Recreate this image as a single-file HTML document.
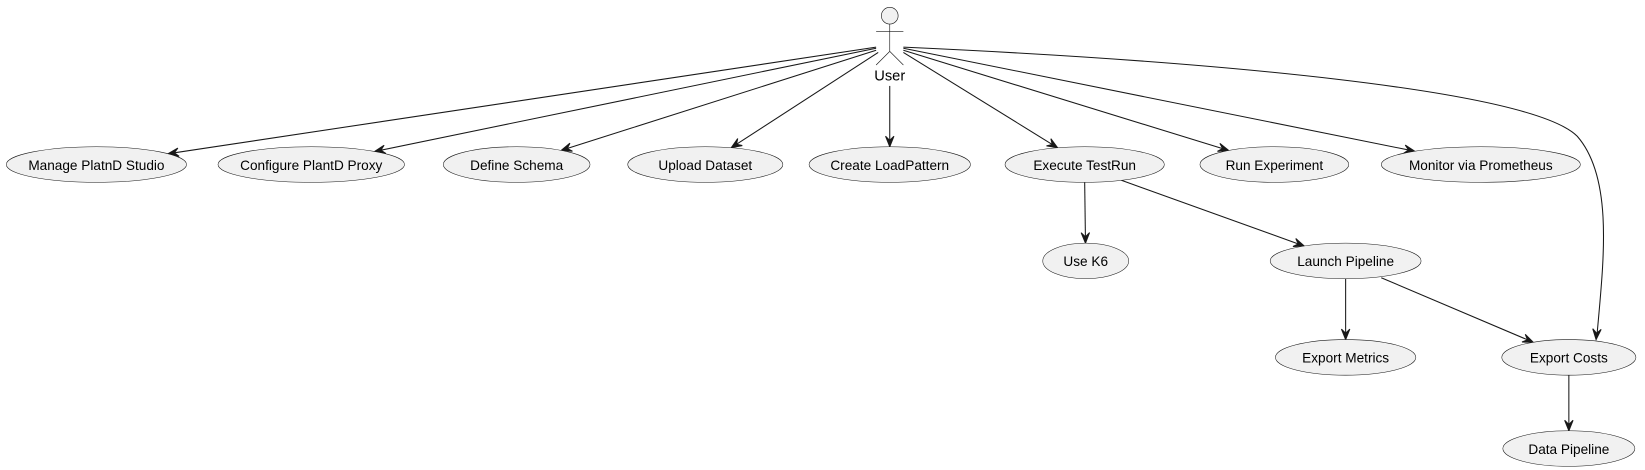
<!DOCTYPE html>
<html><head><meta charset="utf-8"><style>
html,body{margin:0;padding:0;background:#fff;}
svg{display:block;font-family:"Liberation Sans",Arial,sans-serif;}
</style></head><body>
<svg id="d" width="1645" height="470" xmlns="http://www.w3.org/2000/svg">
<g transform="scale(1.048)">
<g stroke="#181818" stroke-width="0.6" fill="none">
<circle cx="849" cy="15" r="8" fill="#f1f1f1"/>
<line x1="849" y1="23" x2="849" y2="49"/>
<line x1="836" y1="30" x2="862" y2="30"/>
<line x1="849" y1="49" x2="836" y2="62"/>
<line x1="849" y1="49" x2="862" y2="62"/>
</g>
<text x="849" y="77" font-size="14" text-anchor="middle" fill="#000">User</text>
<g id="edges"></g>
<g id="nodes"></g>
</g>
</svg>
<script>
const N={
a:[92,157,86,17,"Manage PlatnD Studio"],
b:[297,157,89,17,"Configure PlantD Proxy"],
c:[493,157,70,17,"Define Schema"],
d:[673,157,74,17,"Upload Dataset"],
e:[849,157,77,17,"Create LoadPattern"],
f:[1035,157,76,17,"Execute TestRun"],
g:[1216,157,71,17,"Run Experiment"],
h:[1413,157,95,17,"Monitor via Prometheus"],
k:[1036,249,41,17,"Use K6"],
l:[1284,249,72,17,"Launch Pipeline"],
m:[1284,341,67,17,"Export Metrics"],
n:[1497,341,64,17,"Export Costs"],
p:[1497,428,63,17,"Data Pipeline"]};
const ns="http://www.w3.org/2000/svg";
const E=document.getElementById("edges"),G=document.getElementById("nodes");
function mk(t,a,p){const e=document.createElementNS(ns,t);for(const k in a)e.setAttribute(k,a[k]);p.appendChild(e);return e;}
function arrow(x,y,ux,uy){const px=-uy,py=ux;const b1=[x-ux*10+px*4,y-uy*10+py*4],b2=[x-ux*10-px*4,y-uy*10-py*4],m=[x-ux*6,y-uy*6];
mk("polygon",{points:`${x},${y} ${b1} ${m} ${b2}`,fill:"#181818",stroke:"#181818","stroke-width":"1"},E);}
function edge(sx,sy,id){const [cx,cy,rx,ry]=N[id];const dx=cx-sx,dy=cy-sy;const t=1/Math.sqrt((dx/rx)**2+(dy/ry)**2);
const ex=cx-dx*t,ey=cy-dy*t;const L=Math.hypot(ex-sx,ey-sy);const ux=(ex-sx)/L,uy=(ey-sy)/L;
mk("line",{x1:sx,y1:sy,x2:ex-ux*2,y2:ey-uy*2,stroke:"#181818","stroke-width":"1"},E);arrow(ex,ey,ux,uy);}
edge(836,45,"a");edge(836,46,"b");edge(836,48,"c");edge(838,50,"d");edge(849,82,"e");
edge(862,50,"f");edge(862,48,"g");edge(862,46,"h");
edge(1035,174,"k");edge(1070,172,"l");edge(1284,266,"m");edge(1318,265,"n");edge(1497,358,"p");
mk("path",{d:"M862,45 C1150,58 1460,85 1505,130 C1540,170 1530,250 1524,318",stroke:"#181818","stroke-width":"1",fill:"none"},E);
arrow(1523,324,-0.08,1);
for(const k in N){const [cx,cy,rx,ry,t]=N[k];
mk("ellipse",{cx,cy,rx,ry,fill:"#f1f1f1",stroke:"#181818","stroke-width":"0.5"},G);
const tx=mk("text",{x:cx,y:cy+5,"font-size":"13","text-anchor":"middle",fill:"#000"},G);tx.textContent=t;}
</script>
</body></html>
